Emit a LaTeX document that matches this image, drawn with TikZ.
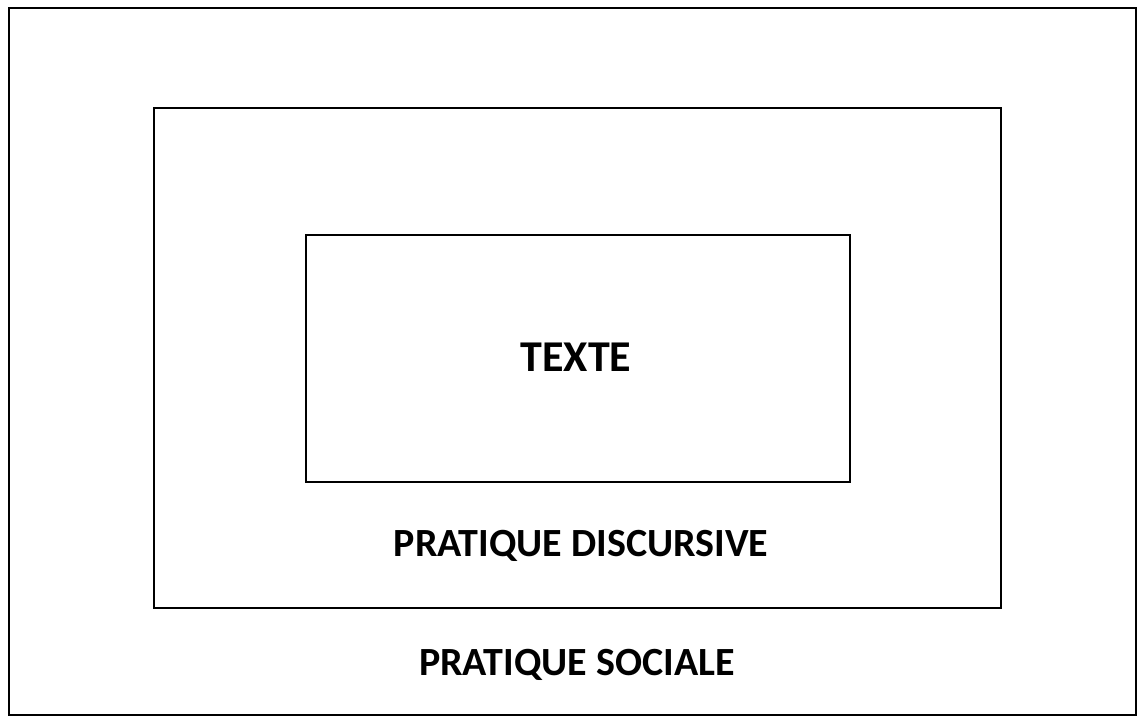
\documentclass[tikz,border=0pt]{standalone}
\usepackage{fontspec}
\setmainfont{Carlito}
\tikzset{label/.style={font=\fontsize{40}{44}\selectfont\bfseries}}
\begin{document}
\begin{tikzpicture}[x=1pt,y=-1pt,line width=2.8pt]
\useasboundingbox (0,0) rectangle (1138,717);
\draw (9,8) rectangle (1136,715);
\draw (154,108) rectangle (1001,608);
\draw (306,235) rectangle (850,482);

\node[label,font=\fontsize{44}{48}\selectfont\bfseries] (texte) at (576,357) {TEXTE};
\node[label] (discursive) at (581,546) {PRATIQUE DISCURSIVE};
\node[label] (sociale) at (577,665) {PRATIQUE SOCIALE};
\end{tikzpicture}
\end{document}
